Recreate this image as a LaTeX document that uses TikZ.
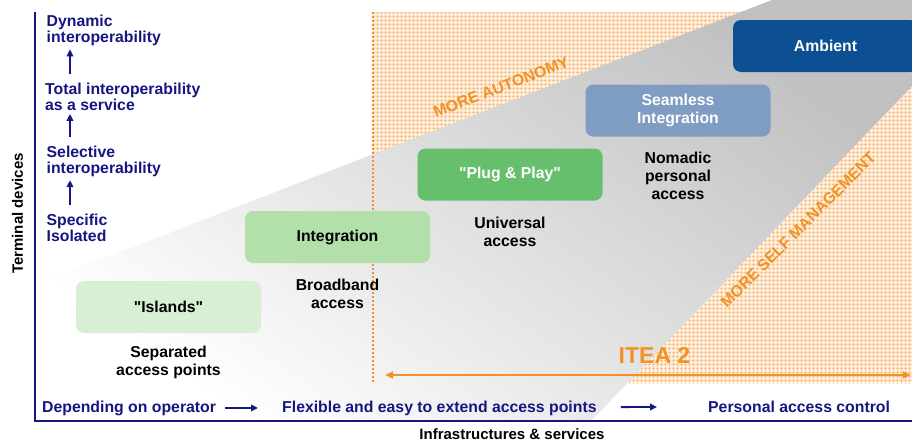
\documentclass[tikz,border=0pt]{standalone}
\usepackage{fontspec}
\setmainfont{Liberation Sans}
\usetikzlibrary{positioning,arrows.meta,patterns.meta,calc}

\definecolor{navy}{RGB}{22,22,130}
\definecolor{itorange}{RGB}{242,146,38}
\definecolor{islandgreen}{RGB}{217,239,211}
\definecolor{integgreen}{RGB}{178,223,170}
\definecolor{pluggreen}{RGB}{102,191,108}
\definecolor{seamblue}{RGB}{127,157,194}
\definecolor{ambblue}{RGB}{12,79,146}
\definecolor{wedgegray}{RGB}{192,192,192}

\tikzdeclarepattern{
  name=orangegrid,
  type=uncolored,
  bottom left={(0pt,0pt)},
  top right={(4pt,4pt)},
  tile size={(4pt,4pt)},
  code={
    \draw[line width=0.9pt] (0pt,2pt) -- (4pt,2pt) (2pt,0pt) -- (2pt,4pt);
  }
}

\begin{document}
\begin{tikzpicture}[
  x=1pt, y=-1pt,
  every node/.style={inner sep=0pt, font=\fontsize{15.8}{16}\selectfont\bfseries},
  stage/.style={rectangle, rounded corners=8pt, minimum width=185pt,
                minimum height=52pt, align=center,
                font=\fontsize{15.8}{18}\selectfont\bfseries},
  accesslabel/.style={align=center, font=\fontsize{15.8}{18}\selectfont\bfseries},
  interop/.style={align=left, anchor=north west, text=navy},
  axislabel/.style={font=\fontsize{15}{16}\selectfont\bfseries},
  navyarrow/.style={draw=navy, line width=1.8pt, -{Triangle[length=7pt,width=6.5pt]}},
  more/.style={text=itorange}
]
\fill[white] (0,0) rectangle (912,445);
\useasboundingbox (0,0) rectangle (912,445);

% orange area and grey wedge
\fill[itorange!14] (373,12) rectangle (912,383);
\fill[pattern=orangegrid, pattern color=itorange!55] (373,12) rectangle (912,383);
\shade[top color=wedgegray, bottom color=white, shading angle=-35]
  (35,285) -- (772,0) -- (912,0) -- (912,86) -- (592,420) -- (35,420) -- cycle;
\draw[itorange, line width=1.8pt, dash pattern=on 1.8pt off 2.2pt] (373,12) -- (373,383);

\node[more, rotate=21] (autonomy) at (501,87) {MORE AUTONOMY};
\node[more, rotate=45] (selfmgmt) at (798,230) {MORE SELF MANAGEMENT};

% axes
\coordinate (origin) at (35,420.5);
\draw[navy, line width=2pt] (35,12) -- (origin) -- (912,420.5);
\node[axislabel, rotate=90] (terminal) at (17.5,213.5) {Terminal devices};
\node[axislabel, anchor=base] (infra) at (512,439) {Infrastructures \& services};

% stages
\node[stage, fill=islandgreen] (islands) at (168.5,307) {\textquotedbl Islands\textquotedbl};
\node[stage, fill=integgreen] (integration) at (337.5,237) {Integration};
\node[stage, fill=pluggreen, text=white] (plugplay) at (510,174.5) {\textquotedbl Plug \& Play\textquotedbl};
\node[stage, fill=seamblue, text=white] (seamless) at (678,110.5) {Seamless\\Integration};
\node[stage, fill=ambblue, text=white] (ambient) at (825.5,46) {Ambient};

\node[accesslabel, below=12.5pt of islands] (separated) {Separated\\access points};
\node[accesslabel, below=16pt of integration] (broadband) {Broadband\\access};
\node[accesslabel, below=16pt of plugplay] (universal) {Universal\\access};
\node[accesslabel, below=15.5pt of seamless] (nomadic) {Nomadic\\personal\\access};

% terminal devices levels
\node[interop] (dynamic) at (46.5,14.7) {Dynamic\\interoperability};
\node[interop] (total) at (45,82.4) {Total interoperability\\as a service};
\node[interop] (selective) at (46.5,145.5) {Selective\\interoperability};
\node[interop] (specific) at (46.5,213.7) {Specific\\Isolated};
\coordinate (stepx) at (70,0);
\draw[navyarrow] ($(specific.north -| stepx)+(0,-8.5)$) -- ($(selective.south -| stepx)+(0,3.5)$);
\draw[navyarrow] ($(selective.north -| stepx)+(0,-8.5)$) -- ($(total.south -| stepx)+(0,3.5)$);
\draw[navyarrow] ($(total.north -| stepx)+(0,-8.5)$) -- ($(dynamic.south -| stepx)+(0,3.5)$);

% access evolution
\node[anchor=base west, text=navy] (operator) at (42,412) {Depending on operator};
\node[anchor=base west, text=navy] (flexible) at (282,412) {Flexible and easy to extend access points};
\node[anchor=base west, text=navy] (personal) at (708,412) {Personal access control};
\draw[navyarrow, shorten <=9pt, shorten >=24pt] (operator) -- (flexible);
\draw[navyarrow, shorten <=24pt, shorten >=51pt] (flexible) -- (personal);

% ITEA 2 span
\coordinate (iteaL) at (385,375);
\coordinate (iteaR) at (911,375);
\draw[itorange, line width=2pt, {Triangle[length=8pt,width=7pt]}-{Triangle[length=8pt,width=7pt]}] (iteaL) -- (iteaR);
\node[text=itorange, font=\fontsize{23}{24}\selectfont\bfseries, anchor=base] (itea) at (654.5,363) {ITEA 2};
\end{tikzpicture}
\end{document}
